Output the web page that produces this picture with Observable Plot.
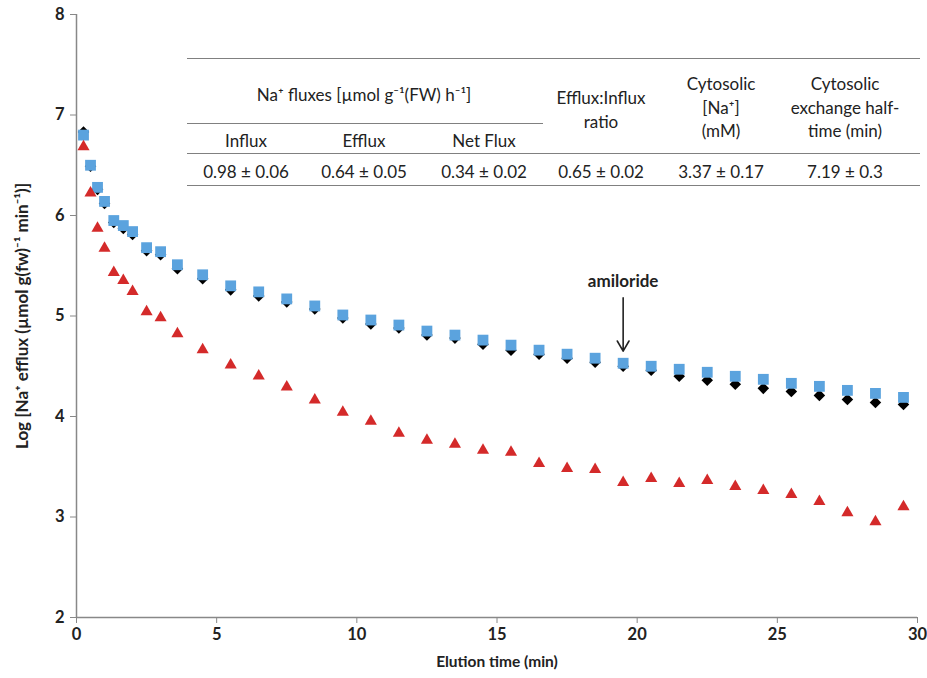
<!DOCTYPE html>
<html>
<head>
<meta charset="utf-8">
<script src="https://cdn.jsdelivr.net/npm/d3@7"></script>
<script src="https://cdn.jsdelivr.net/npm/@observablehq/plot@0.6"></script>
<style>
  body { margin: 0; background: white; }
  #wrap { position: relative; width: 927px; height: 678px; font-family: Lato, "Open Sans", sans-serif; color: #222; }
  .t { position: absolute; transform: translate(-50%, -50%); white-space: nowrap; font-size: 17px; }
  .ln { position: absolute; height: 0; border-top: 1.4px solid #808080; }
</style>
</head>
<body>
<div id="wrap"></div>
<script>
// Elution times (min)
const times = [0.25, 0.5, 0.75, 1, 1.33, 1.67, 2, 2.5, 3, 3.6,
  4.5, 5.5, 6.5, 7.5, 8.5, 9.5, 10.5, 11.5, 12.5, 13.5, 14.5, 15.5, 16.5, 17.5, 18.5,
  19.5, 20.5, 21.5, 22.5, 23.5, 24.5, 25.5, 26.5, 27.5, 28.5, 29.5];
// Black diamonds
const blackSeries = [6.83, 6.49, 6.26, 6.12, 5.93, 5.87, 5.81, 5.65, 5.61, 5.47,
  5.37, 5.26, 5.20, 5.14, 5.07, 4.98, 4.92, 4.88, 4.81, 4.78, 4.72, 4.66, 4.62, 4.58, 4.54,
  4.50, 4.46, 4.40, 4.36, 4.32, 4.28, 4.25, 4.21, 4.17, 4.14, 4.12];
// Blue squares
const blueSeries = [6.80, 6.50, 6.28, 6.14, 5.95, 5.90, 5.84, 5.68, 5.64, 5.51,
  5.41, 5.30, 5.24, 5.17, 5.10, 5.01, 4.96, 4.91, 4.85, 4.81, 4.76, 4.71, 4.66, 4.62, 4.58,
  4.53, 4.50, 4.47, 4.44, 4.40, 4.37, 4.33, 4.30, 4.26, 4.23, 4.19];
// Red triangles
const redSeries = [6.70, 6.24, 5.89, 5.69, 5.45, 5.37, 5.26, 5.06, 5.00, 4.84,
  4.68, 4.53, 4.42, 4.31, 4.18, 4.06, 3.97, 3.85, 3.78, 3.74, 3.68, 3.66, 3.55, 3.50, 3.49,
  3.36, 3.40, 3.35, 3.38, 3.32, 3.28, 3.24, 3.17, 3.06, 2.97, 3.12];

const xTicks = [0, 5, 10, 15, 20, 25, 30];
const yTicks = [2, 3, 4, 5, 6, 7, 8];
const xLabel = "Elution time (min)";
const yLabel = "Log [Na⁺ efflux (µmol g(fw)⁻¹ min⁻¹)]";

// amiloride annotation
const amilorideText = ["amiloride"];
const amilorideX = [19.5];
const amilorideTextY = [5.34];
const amilorideArrowY = [5.18, 4.65];

// Inset table
const tableGroupHeader = "Na⁺ fluxes [µmol g⁻¹(FW) h⁻¹]";
const tableSubHeaders = ["Influx", "Efflux", "Net Flux"];
const tableSideHeaders = [["Efflux:Influx", "ratio"], ["Cytosolic", "[Na⁺]", "(mM)"], ["Cytosolic", "exchange half-", "time (min)"]];
const tableValues = ["0.98 ± 0.06", "0.64 ± 0.05", "0.34 ± 0.02", "0.65 ± 0.02", "3.37 ± 0.17", "7.19 ± 0.3"];

const mk = (ys) => times.map((t, i) => ({t, v: ys[i]}));

const chart = Plot.plot({
  width: 927, height: 678,
  marginLeft: 76, marginRight: 10, marginTop: 14, marginBottom: 61,
  style: {fontFamily: "Lato, 'Open Sans', sans-serif", color: "#222", background: "white"},
  x: {domain: [0, 30]},
  y: {domain: [2, 8]},
  marks: [
    Plot.axisY({ticks: yTicks, tickFormat: d => String(d), tickSize: 6, tickPadding: 6, stroke: "#888", fill: "#222", fontWeight: "bold", fontSize: 16.5, label: null}),
    Plot.axisX({ticks: xTicks, tickFormat: d => String(d), tickSize: 6, tickPadding: 5, stroke: "#888", fill: "#222", fontWeight: "bold", fontSize: 16.5, label: null}),
    Plot.ruleX([0], {stroke: "#888", strokeWidth: 1.5}),
    Plot.ruleY([2], {stroke: "#888", strokeWidth: 1.5}),
    Plot.text([xLabel], {frameAnchor: "bottom", dy: 45, lineAnchor: "middle", textAnchor: "middle", fontWeight: "bold", fontSize: 15.5, fill: "#222"}),
    Plot.text([yLabel], {frameAnchor: "left", dx: -54, rotate: -90, lineAnchor: "middle", textAnchor: "middle", fontWeight: "bold", fontSize: 17, fill: "#222"}),
    Plot.dot(mk(blackSeries), {x: "t", y: "v", symbol: "diamond2", r: 5.2, fill: "#000", stroke: "none"}),
    Plot.dot(mk(blueSeries), {x: "t", y: "v", symbol: "square", r: 6.1, fill: "#5ba3de", stroke: "none"}),
    Plot.dot(mk(redSeries), {x: "t", y: "v", symbol: "triangle", r: 4.5, fill: "#d42a2a", stroke: "none", dy: 1.7}),
    Plot.arrow(amilorideX, {x1: d => d, x2: d => d, y1: () => amilorideArrowY[0], y2: () => amilorideArrowY[1], stroke: "#222", strokeWidth: 1.6, headLength: 11}),
    Plot.text(amilorideText, {x: () => amilorideX[0], y: () => amilorideTextY[0], fontWeight: "bold", fontSize: 17, fill: "#222"})
  ]
});

const wrap = document.getElementById("wrap");
wrap.appendChild(chart);

// overlay table
function addText(s, x, y) {
  const d = document.createElement("div");
  d.className = "t"; d.textContent = s;
  d.style.left = x + "px"; d.style.top = y + "px";
  wrap.appendChild(d);
}
function addLine(x1, x2, y) {
  const d = document.createElement("div");
  d.className = "ln";
  d.style.left = x1 + "px"; d.style.width = (x2 - x1) + "px"; d.style.top = y + "px";
  wrap.appendChild(d);
}
const colX = [246, 364, 484, 601, 721, 845];
addLine(187, 920, 58);
addLine(187, 543, 123);
addLine(187, 920, 153);
addLine(187, 920, 185);
addText(tableGroupHeader, 364, 94);
tableSubHeaders.forEach((s, i) => addText(s, colX[i], 140));
const sideY = [[97, 121], [83, 107, 130], [83, 107, 130]];
tableSideHeaders.forEach((lines, i) => lines.forEach((s, j) => addText(s, colX[3 + i], sideY[i][j])));
tableValues.forEach((s, i) => addText(s, colX[i], 171));
</script>
</body>
</html>
